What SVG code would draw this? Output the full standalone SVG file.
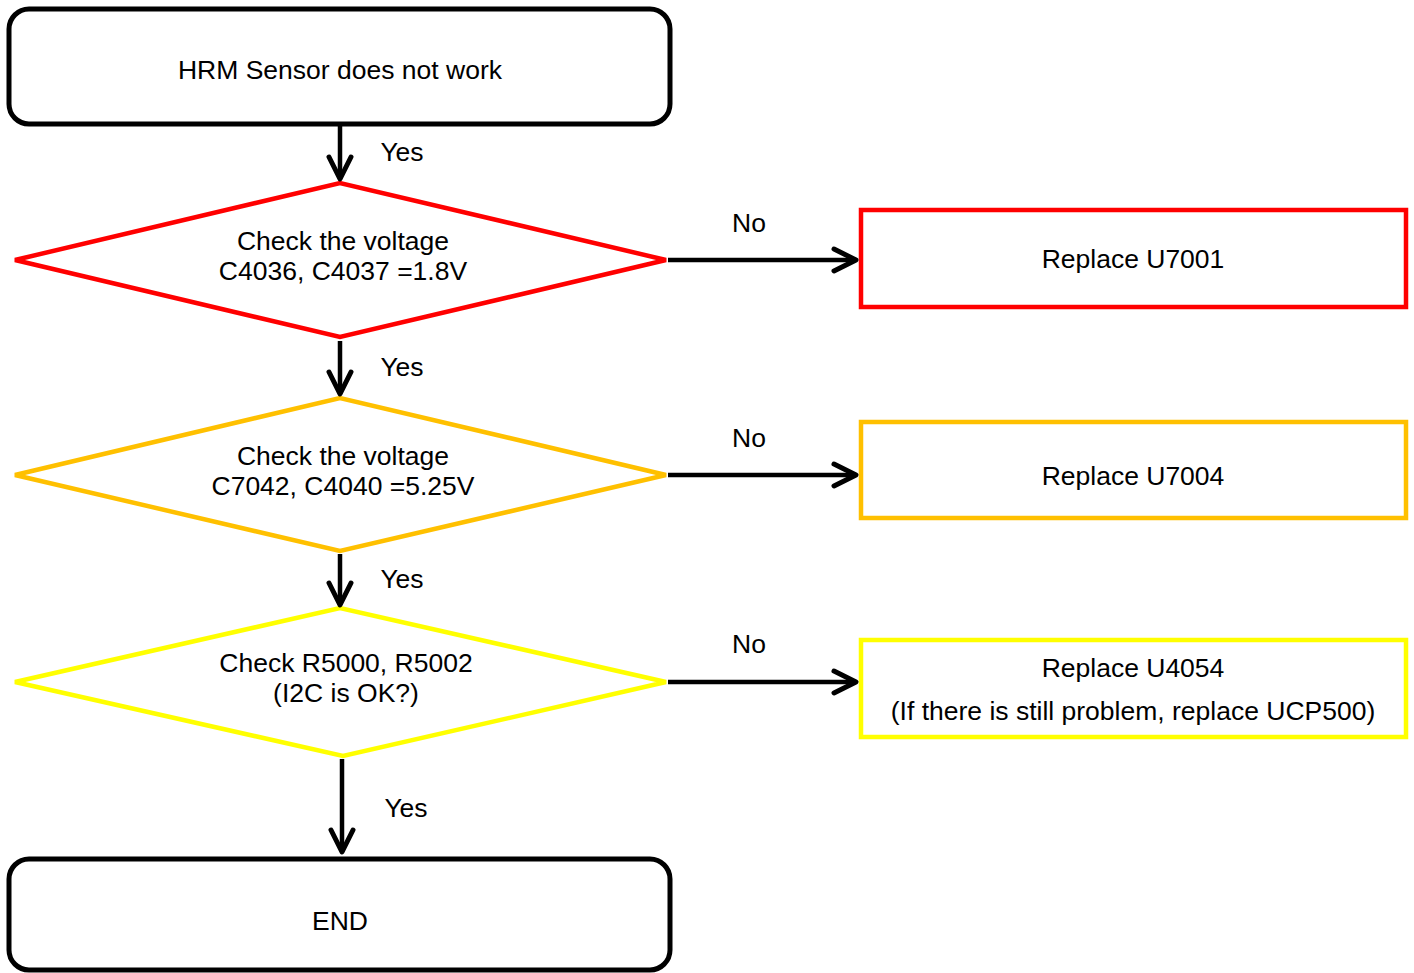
<svg xmlns="http://www.w3.org/2000/svg" width="1414" height="973" viewBox="0 0 1414 973">
<style>
text{font-family:"Liberation Sans",Arial,sans-serif;font-size:26.5px;fill:#000;text-anchor:middle}
.term{fill:#fff;stroke:#000;stroke-width:5}
.dia{fill:#fff;stroke-width:4.5;stroke-linejoin:miter}
.box{fill:#fff;stroke-width:4.5}
.conn{stroke:#000;stroke-width:4.5;fill:none;marker-end:url(#arr)}
</style>
<defs>
<marker id="arr" markerUnits="userSpaceOnUse" viewBox="-30 -20 40 40" refX="0" refY="0" markerWidth="40" markerHeight="40" orient="auto" overflow="visible">
<path d="M-22,-11 L0,0 L-22,11" fill="none" stroke="#000" stroke-width="5" stroke-linecap="round" stroke-linejoin="round"/>
</marker>
</defs>
<rect width="1414" height="973" fill="#fff"/>
<g id="start">
<rect class="term" x="9" y="9" width="661" height="115" rx="20"/>
<text x="340" y="79">HRM Sensor does not work</text>
</g>
<g id="check1">
<polygon class="dia" stroke="#FF0000" points="15,260 340,183 666,260 340,337"/>
<text x="343" y="250">Check the voltage</text>
<text x="343" y="280">C4036, C4037 =1.8V</text>
</g>
<g id="replace1">
<rect class="box" stroke="#FF0000" x="861" y="210" width="545" height="97"/>
<text x="1133" y="268">Replace U7001</text>
</g>
<g id="check2">
<polygon class="dia" stroke="#FFC000" points="15,475 340,398 666,475 340,551"/>
<text x="343" y="465">Check the voltage</text>
<text x="343" y="495">C7042, C4040 =5.25V</text>
</g>
<g id="replace2">
<rect class="box" stroke="#FFC000" x="861" y="422" width="545" height="96"/>
<text x="1133" y="485">Replace U7004</text>
</g>
<g id="check3">
<polygon class="dia" stroke="#FFFF00" points="15,682 340,608 666,682 343,756"/>
<text x="346" y="672">Check R5000, R5002</text>
<text x="346" y="702">(I2C is OK?)</text>
</g>
<g id="replace3">
<rect class="box" stroke="#FFFF00" x="861" y="640" width="545" height="97"/>
<text x="1133" y="677">Replace U4054</text>
<text x="1133" y="720">(If there is still problem, replace UCP500)</text>
</g>
<g id="end">
<rect class="term" x="9" y="859" width="661" height="111" rx="20"/>
<text x="340" y="930">END</text>
</g>
<g id="connectors">
<line class="conn" x1="340" y1="126" x2="340" y2="179"/>
<line class="conn" x1="340" y1="341" x2="340" y2="394"/>
<line class="conn" x1="340" y1="554" x2="340" y2="605"/>
<line class="conn" x1="342" y1="759" x2="342" y2="852"/>
<line class="conn" x1="668" y1="260" x2="856" y2="260"/>
<line class="conn" x1="668" y1="475" x2="856" y2="475"/>
<line class="conn" x1="668" y1="682" x2="856" y2="682"/>
<text x="402" y="161">Yes</text>
<text x="402" y="376">Yes</text>
<text x="402" y="588">Yes</text>
<text x="406" y="817">Yes</text>
<text x="749" y="232">No</text>
<text x="749" y="447">No</text>
<text x="749" y="653">No</text>
</g>
</svg>
